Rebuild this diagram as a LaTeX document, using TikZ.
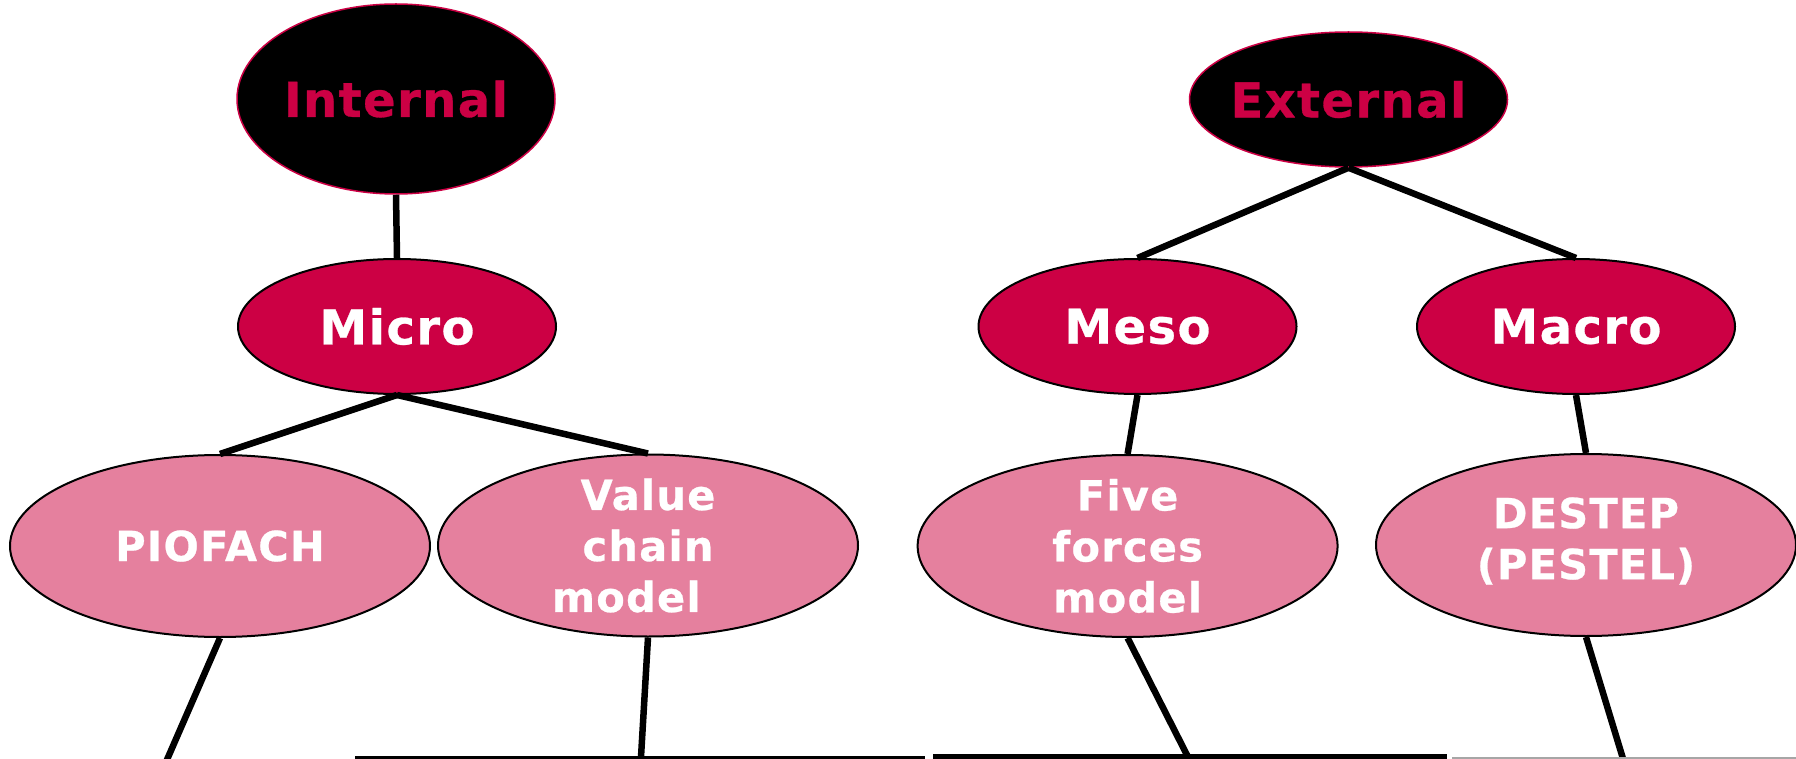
\documentclass[tikz,border=0pt]{standalone}
\usepackage{fontspec}
\setmainfont{DejaVu Sans}[BoldFeatures={FakeBold=0.6,LetterSpace=3}]
\usetikzlibrary{shapes.geometric}
\definecolor{crim}{RGB}{204,0,68}
\definecolor{pinkfill}{RGB}{229,128,158}
\tikzset{
  toptxt/.style={text=crim, inner sep=0pt, font=\bfseries\fontsize{48}{59}\selectfont},
  midtxt/.style={text=white, inner sep=0pt, font=\bfseries\fontsize{48}{59}\selectfont},
  topell/.style={ellipse, fill=black, draw=crim, line width=1.5pt, inner sep=0pt,
     minimum width=318pt},
  midell/.style={ellipse, fill=crim, draw=black, line width=2pt, inner sep=0pt,
     minimum width=318pt, minimum height=135pt},
  lowell/.style={ellipse, fill=pinkfill, draw=black, line width=2pt, inner sep=0pt,
     minimum width=420pt, minimum height=182pt},
  lowtxt/.style={text=white, align=center, inner sep=0pt, font=\bfseries\fontsize{41.5}{51}\selectfont},
  conn/.style={line width=6.5pt, black},
}
\begin{document}
\begin{tikzpicture}[x=1pt,y=-1pt]
\useasboundingbox (0,0) rectangle (1796,759);
\fill[white] (0,0) rectangle (1796,759);
% top level
\node[topell, minimum height=190pt] (int) at (396,99) {};
\node[topell, minimum height=135pt] (ext) at (1348.5,99.5) {};
\node[toptxt] (intt) at (int.center) {Internal};
\node[toptxt] (extt) at (ext.center) {External};
% middle level
\node[midell] (micro) at (397,326.5) {};
\node[midell] (meso) at (1137.5,326.5) {};
\node[midell] (macro) at (1576,326.5) {};
\node[midtxt] (microt) at (micro.center) {Micro};
\node[midtxt] (mesot) at (meso.center) {Meso};
\node[midtxt] (macrot) at (macro.center) {Macro};
% lower level
\node[lowell] (pio) at (220,546) {};
\node[lowell] (val) at (648,545.5) {};
\node[lowell] (five) at (1127.6,546) {};
\node[lowell] (dest) at (1586,545) {};
\node[lowtxt] (piot) at (pio.center) {PIOFACH};
\node[lowtxt] (valt) at (val.center) {Value\\chain\\model\hspace*{1.05em}};
\node[lowtxt] (fivet) at (five.center) {Five\\forces\\model};
\node[lowtxt] (destt) at ([yshift=4pt]dest.center) {DESTEP\\(PESTEL)};
% bottom free ends
\coordinate (pioE) at (166,762);
\coordinate (valE) at (641,757);
\coordinate (fiveE) at (1188,757);
\coordinate (destE) at (1624,762);
\coordinate (h1a) at (355,757.5);
\coordinate (h1b) at (925,757.5);
\coordinate (h2a) at (933,756.5);
\coordinate (h2b) at (1447,756.5);
\coordinate (h3a) at (1452,758);
\coordinate (h3b) at (1796,758);
% connectors
\draw[conn] (int.south) -- (micro.north);
\draw[conn] (micro.south) -- (pio.north);
\draw[conn] (micro.south) -- (val.north);
\draw[conn] (ext.south) -- (meso.north);
\draw[conn] (ext.south) -- (macro.north);
\draw[conn] (meso.south) -- (five.north);
\draw[conn] (macro.south) -- (dest.north);
\draw[conn] (pio.south) -- (pioE);
\draw[conn] (val.south) -- (valE);
\draw[conn] (five.south) -- (fiveE);
\draw[conn] (dest.south) -- (destE);
\draw[line width=4pt] (h1a) -- (h1b);
\draw[line width=6pt] (h2a) -- (h2b);
\draw[line width=1.5pt, gray!70] (h3a) -- (h3b);
\end{tikzpicture}
\end{document}
